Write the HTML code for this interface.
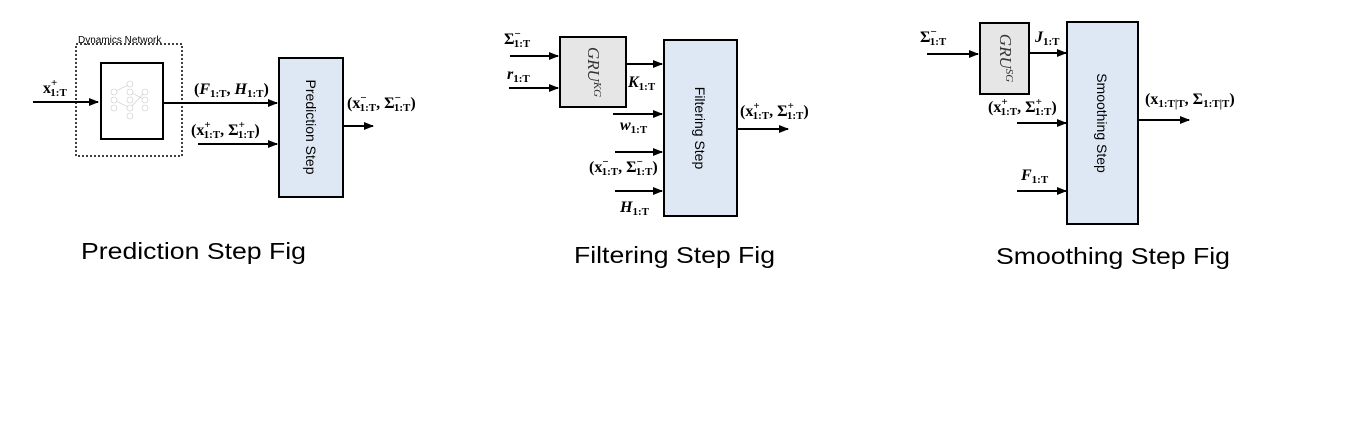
<!DOCTYPE html>
<html><head><meta charset="utf-8"><style>
html,body{margin:0;padding:0;background:#fff;}
svg{display:block;}
.m{font-family:"Liberation Serif",serif;font-weight:bold;font-size:16px;}
.s{font-size:11px;}
.cap{font-family:"Liberation Sans",sans-serif;font-size:23px;fill:#000;}
.bt{font-family:"Liberation Sans",sans-serif;font-size:14px;fill:#000;}
</style></head><body>
<svg width="1372" height="425" viewBox="0 0 1372 425" xmlns="http://www.w3.org/2000/svg">
<defs><marker id="a" markerWidth="10" markerHeight="8" refX="9" refY="4" orient="auto" markerUnits="userSpaceOnUse"><path d="M0,0 L10,4 L0,8 Z" fill="#000"/></marker></defs>
<g stroke="#000" stroke-width="2" marker-end="url(#a)">
<line x1="33" y1="102" x2="98" y2="102"/>
<line x1="163" y1="103" x2="277" y2="103"/>
<line x1="198" y1="144" x2="277" y2="144"/>
<line x1="343" y1="126" x2="373" y2="126"/>
<line x1="510" y1="56" x2="558" y2="56"/>
<line x1="509" y1="88" x2="558" y2="88"/>
<line x1="626" y1="64" x2="662" y2="64"/>
<line x1="613" y1="114" x2="662" y2="114"/>
<line x1="615" y1="152" x2="662" y2="152"/>
<line x1="615" y1="191" x2="662" y2="191"/>
<line x1="737" y1="129" x2="788" y2="129"/>
<line x1="927" y1="54" x2="978" y2="54"/>
<line x1="1029" y1="53" x2="1066" y2="53"/>
<line x1="1017" y1="123" x2="1066" y2="123"/>
<line x1="1017" y1="191" x2="1066" y2="191"/>
<line x1="1138" y1="120" x2="1189" y2="120"/>
</g>
<rect x="76" y="44" width="106" height="112" fill="none" stroke="#000" stroke-width="1.5" stroke-dasharray="2,2"/>
<text x="78" y="43" font-family="Liberation Sans,sans-serif" font-size="10">Dynamics Network</text>
<rect x="101" y="63" width="62" height="76" fill="#fff" stroke="#000" stroke-width="2"/>
<g stroke="#ccc" stroke-width="0.6" fill="#fff">
<line x1="114" y1="92" x2="130" y2="84"/><line x1="114" y1="100" x2="130" y2="108"/><line x1="130" y1="92" x2="145" y2="100"/><line x1="130" y1="108" x2="145" y2="92"/>
<circle cx="114" cy="92" r="3"/><circle cx="114" cy="100" r="3"/><circle cx="114" cy="108" r="3"/>
<circle cx="130" cy="84" r="3"/><circle cx="130" cy="92" r="3"/><circle cx="130" cy="100" r="3"/><circle cx="130" cy="108" r="3"/><circle cx="130" cy="116" r="3"/>
<circle cx="145" cy="92" r="3"/><circle cx="145" cy="100" r="3"/><circle cx="145" cy="108" r="3"/>
</g>
<rect x="279" y="58" width="64" height="139" fill="#dee8f5" stroke="#000" stroke-width="2"/>
<text class="bt" transform="translate(306,127) rotate(90)" text-anchor="middle">Prediction Step</text>
<rect x="560" y="37" width="66" height="70" fill="#e7e6e6" stroke="#000" stroke-width="2"/>
<text transform="translate(588,72) rotate(90)" text-anchor="middle" font-family="Liberation Serif,serif" font-style="italic" font-size="17" fill="#333">GRU<tspan font-size="11" dy="-6">KG</tspan></text>
<rect x="664" y="40" width="73" height="176" fill="#dee8f5" stroke="#000" stroke-width="2"/>
<text class="bt" transform="translate(695,128) rotate(90)" text-anchor="middle">Filtering Step</text>
<rect x="980" y="23" width="49" height="71" fill="#e7e6e6" stroke="#000" stroke-width="2"/>
<text transform="translate(1000,58) rotate(90)" text-anchor="middle" font-family="Liberation Serif,serif" font-style="italic" font-size="17" fill="#333">GRU<tspan font-size="11" dy="-6">SG</tspan></text>
<rect x="1067" y="22" width="71" height="202" fill="#dee8f5" stroke="#000" stroke-width="2"/>
<text class="bt" transform="translate(1097,123) rotate(90)" text-anchor="middle">Smoothing Step</text>
<g class="m">
<text x="43" y="93">x<tspan class="s" dy="-7">+</tspan><tspan class="s" dx="-7" dy="10">1:T</tspan></text>
<text x="194" y="94">(<tspan font-style="italic">F</tspan><tspan class="s" dy="3">1:T</tspan><tspan dy="-3">, </tspan><tspan font-style="italic">H</tspan><tspan class="s" dy="3">1:T</tspan><tspan dy="-3">)</tspan></text>
<text x="191" y="135">(x<tspan class="s" dy="-7">+</tspan><tspan class="s" dx="-7" dy="10">1:T</tspan><tspan dy="-3">, Σ</tspan><tspan class="s" dy="-7">+</tspan><tspan class="s" dx="-7" dy="10">1:T</tspan><tspan dy="-3">)</tspan></text>
<text x="347" y="108">(x<tspan class="s" dy="-7">−</tspan><tspan class="s" dx="-7" dy="10">1:T</tspan><tspan dy="-3">, Σ</tspan><tspan class="s" dy="-7">−</tspan><tspan class="s" dx="-7" dy="10">1:T</tspan><tspan dy="-3">)</tspan></text>
<text x="504" y="44">Σ<tspan class="s" dy="-7">−</tspan><tspan class="s" dx="-7" dy="10">1:T</tspan></text>
<text x="507" y="79"><tspan font-style="italic">r</tspan><tspan class="s" dy="3">1:T</tspan></text>
<text x="628" y="87"><tspan font-style="italic">K</tspan><tspan class="s" dy="3">1:T</tspan></text>
<text x="620" y="130"><tspan font-style="italic">w</tspan><tspan class="s" dy="3">1:T</tspan></text>
<text x="589" y="172">(x<tspan class="s" dy="-7">−</tspan><tspan class="s" dx="-7" dy="10">1:T</tspan><tspan dy="-3">, Σ</tspan><tspan class="s" dy="-7">−</tspan><tspan class="s" dx="-7" dy="10">1:T</tspan><tspan dy="-3">)</tspan></text>
<text x="620" y="212"><tspan font-style="italic">H</tspan><tspan class="s" dy="3">1:T</tspan></text>
<text x="740" y="116">(x<tspan class="s" dy="-7">+</tspan><tspan class="s" dx="-7" dy="10">1:T</tspan><tspan dy="-3">, Σ</tspan><tspan class="s" dy="-7">+</tspan><tspan class="s" dx="-7" dy="10">1:T</tspan><tspan dy="-3">)</tspan></text>
<text x="920" y="42">Σ<tspan class="s" dy="-7">−</tspan><tspan class="s" dx="-7" dy="10">1:T</tspan></text>
<text x="1035" y="42"><tspan font-style="italic">J</tspan><tspan class="s" dy="3">1:T</tspan></text>
<text x="988" y="112">(x<tspan class="s" dy="-7">+</tspan><tspan class="s" dx="-7" dy="10">1:T</tspan><tspan dy="-3">, Σ</tspan><tspan class="s" dy="-7">+</tspan><tspan class="s" dx="-7" dy="10">1:T</tspan><tspan dy="-3">)</tspan></text>
<text x="1021" y="180"><tspan font-style="italic">F</tspan><tspan class="s" dy="3">1:T</tspan></text>
<text x="1145" y="104">(x<tspan class="s" dy="3">1:T|T</tspan><tspan dy="-3">, Σ</tspan><tspan class="s" dy="3">1:T|T</tspan><tspan dy="-3">)</tspan></text>
</g>
<text class="cap" x="81" y="259" textLength="225" lengthAdjust="spacingAndGlyphs">Prediction Step Fig</text>
<text class="cap" x="574" y="263" textLength="201" lengthAdjust="spacingAndGlyphs">Filtering Step Fig</text>
<text class="cap" x="996" y="264" textLength="234" lengthAdjust="spacingAndGlyphs">Smoothing Step Fig</text>
</svg>
</body></html>
